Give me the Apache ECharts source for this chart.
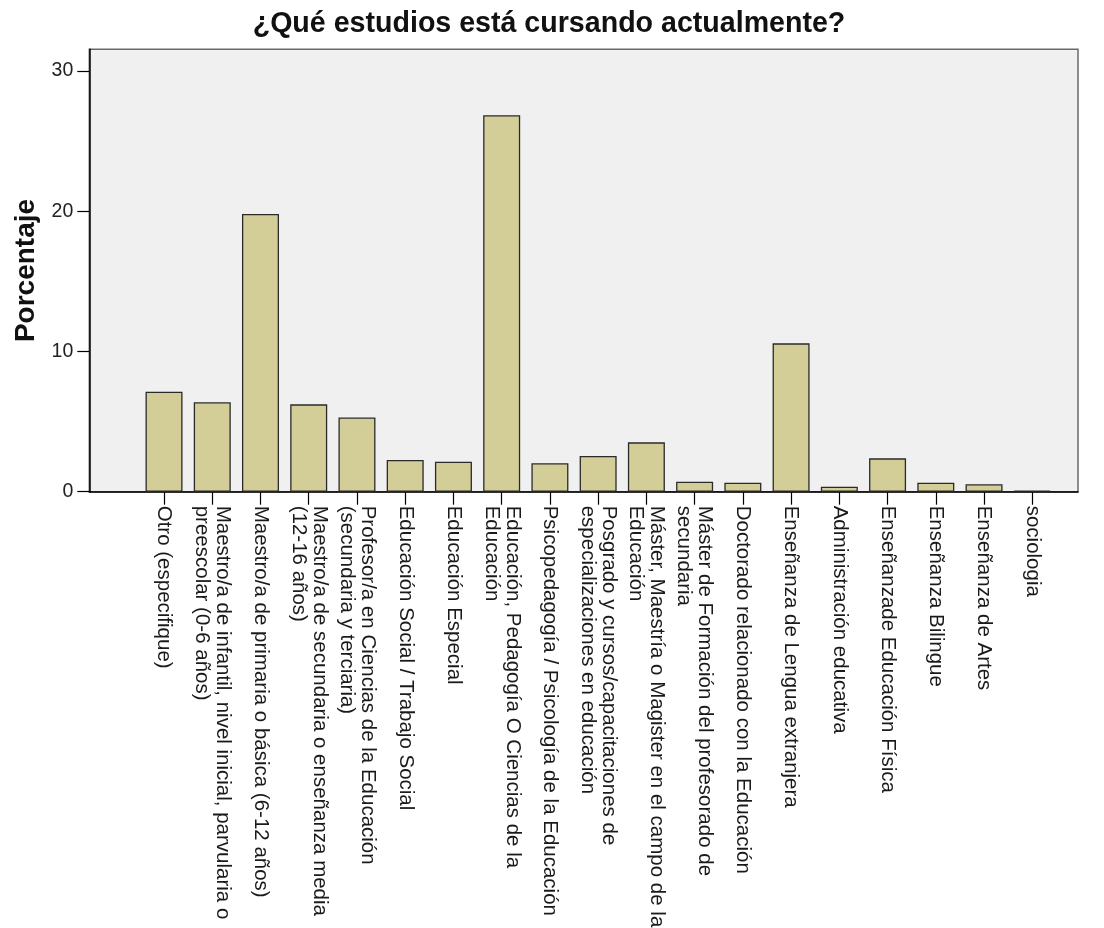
<!DOCTYPE html>
<html>
<head>
<meta charset="utf-8">
<script src="https://cdn.jsdelivr.net/npm/echarts@6/dist/echarts.min.js"></script>
<style>
html,body{margin:0;padding:0;background:#ffffff;}
#chart{width:1104px;height:928px;}
</style>
</head>
<body>
<div id="chart"></div>
<script>
const chartTitle = '¿Qué estudios está cursando actualmente?';
const yAxisName = 'Porcentaje';
const categories = [
  'Otro (especifique)',
  'Maestro/a de infantil, nivel inicial, parvularia o\npreescolar (0-6 años)',
  'Maestro/a de primaria o básica (6-12 años)',
  'Maestro/a de secundaria o enseñanza media\n(12-16 años)',
  'Profesor/a en Ciencias de la Educación\n(secundaria y terciaria)',
  'Educación Social / Trabajo Social',
  'Educación Especial',
  'Educación, Pedagogía O Ciencias de la\nEducación',
  'Psicopedagogía / Psicología de la Educación',
  'Posgrado y cursos/capacitaciones de\nespecializaciones en educación',
  'Máster, Maestría o Magister en el campo de la\nEducación',
  'Máster de Formación del profesorado de\nsecundaria',
  'Doctorado relacionado con la Educación',
  'Enseñanza de Lengua extranjera',
  'Administración educativa',
  'Enseñanzade Educación Física',
  'Enseñanza Bilingue',
  'Enseñanza de Artes',
  'sociologia'
];
const percentages = [7.13, 6.38, 19.81, 6.23, 5.29, 2.26, 2.14, 26.85, 2.03, 2.55, 3.52, 0.71, 0.64, 10.58, 0.36, 2.38, 0.64, 0.53, 0.07];
const yTickValues = [0, 10, 20, 30];
const yMax = 31.55;

const FONT = '"Liberation Sans", Arial, sans-serif';
const chart = echarts.init(document.getElementById('chart'), null, {renderer: 'canvas'});
chart.setOption({
  animation: false,
  backgroundColor: '#ffffff',
  title: {
    text: chartTitle,
    left: 544,
    textAlign: 'center',
    top: 5,
    textStyle: {fontFamily: FONT, fontSize: 28.6, fontWeight: 'bold', color: '#111'}
  },
  grid: [
    {left: 89.3, right: 26, top: 49.3, bottom: 436.3, show: true, backgroundColor: '#F0F0F0', borderColor: '#6a6a6a', borderWidth: 1.5, containLabel: false, outerBoundsMode: 'none'},
    {left: 139.9, right: 47.6, top: 49.3, bottom: 436.3, containLabel: false, outerBoundsMode: 'none'}
  ],
  xAxis: [
    {
      gridIndex: 0, type: 'value', min: 0, max: 1,
      axisLine: {show: true, onZero: false, lineStyle: {color: '#000', width: 1.5}},
      axisTick: {show: false}, axisLabel: {show: false}, splitLine: {show: false}
    },
    {
      gridIndex: 1, type: 'category', data: categories,
      axisLine: {show: false},
      axisTick: {show: true, alignWithLabel: true, length: 13, lineStyle: {color: '#000', width: 1.2}},
      axisLabel: {
        interval: 0, rotate: -90, margin: 14, hideOverlap: false,
        fontFamily: FONT, fontSize: 20.5, lineHeight: 21, color: '#1a1a1a'
      },
      splitLine: {show: false}
    }
  ],
  yAxis: [
    {
      gridIndex: 0, type: 'value', min: 0, max: yMax,
      name: yAxisName, nameLocation: 'middle', nameRotate: 90, nameGap: 48,
      nameTextStyle: {fontFamily: FONT, fontSize: 28, fontWeight: 'bold', color: '#111'},
      axisLine: {show: true, lineStyle: {color: '#000', width: 1.5}},
      axisTick: {show: true, length: 12, customValues: yTickValues, lineStyle: {color: '#000', width: 1.2}},
      axisLabel: {show: true, customValues: yTickValues, margin: 16, fontFamily: FONT, fontSize: 19.5, color: '#222'},
      splitLine: {show: false}
    },
    {
      gridIndex: 1, type: 'value', min: 0, max: yMax,
      axisLine: {show: false}, axisTick: {show: false}, axisLabel: {show: false}, splitLine: {show: false}
    }
  ],
  series: [
    {
      type: 'bar', xAxisIndex: 1, yAxisIndex: 1,
      data: percentages,
      barWidth: 37,
      itemStyle: {color: '#D3CE97', borderColor: '#2a2a2a', borderWidth: 1.3}
    }
  ]
});
</script>
</body>
</html>
